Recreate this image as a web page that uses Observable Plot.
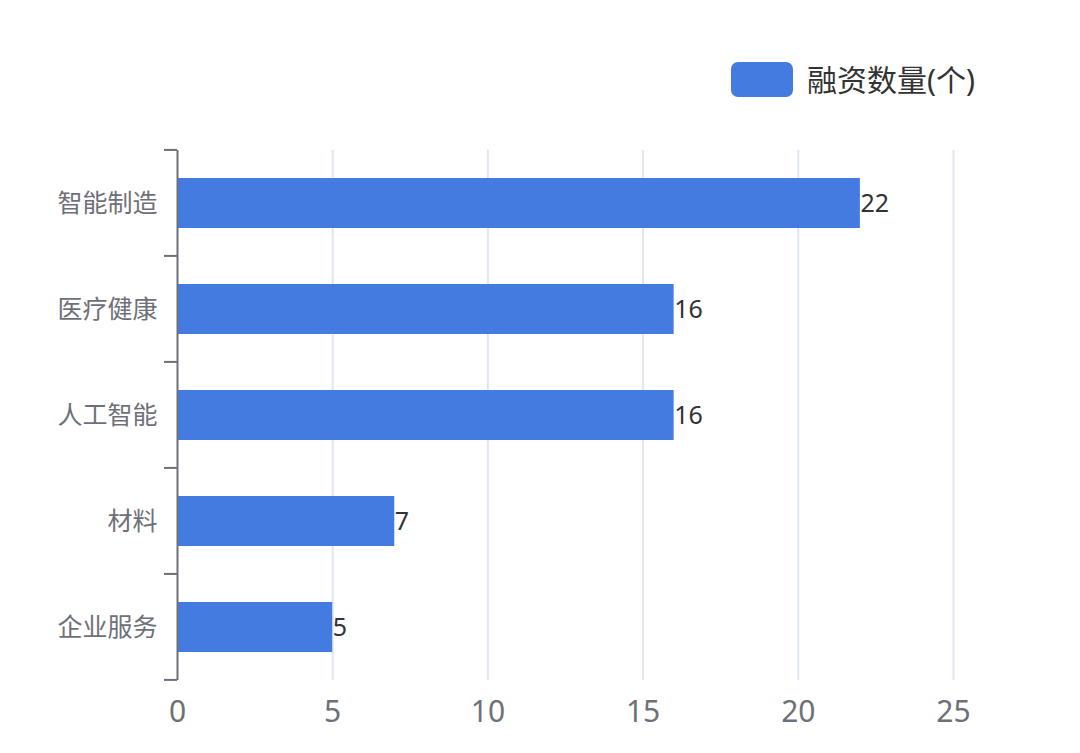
<!DOCTYPE html>
<html><head><meta charset="utf-8">
<script src="https://cdn.jsdelivr.net/npm/d3@7"></script>
<script src="https://cdn.jsdelivr.net/npm/@observablehq/plot@0.6"></script>
<style>
html,body{margin:0;padding:0;background:#fff;}
#wrap{position:relative;width:1080px;height:753px;font-family:"Noto Sans","Noto Sans CJK SC",sans-serif;}
#legend{position:absolute;left:731px;top:62px;display:flex;align-items:center;}
#legend .sw{width:62px;height:35px;border-radius:7px;background:#437be0;}
#legend .lb{margin-left:14px;font-size:30px;color:#333;line-height:35px;}
</style></head>
<body><div id="wrap"><div id="legend"><div class="sw"></div><div class="lb"></div></div></div>
<script>
const categories = ["智能制造", "医疗健康", "人工智能", "材料", "企业服务"];
const values = [22, 16, 16, 7, 5];
const seriesName = "融资数量(个)";
const xTicks = [0, 5, 10, 15, 20, 25];
const PAD = 0.53;

const data = categories.map((c, i) => ({cat: c, v: values[i]}));
document.querySelector("#legend .lb").textContent = seriesName;

function bandEdgeTicks(index, scales, vals, dims) {
  const y = scales.y;
  const step = y(categories[1]) - y(categories[0]);
  const bw = step * (1 - PAD);
  const off = (step - bw) / 2;
  const edges = categories.map(c => y(c) - off).concat([y(categories[categories.length - 1]) + bw + off]);
  const g = d3.create("svg:g");
  g.selectAll("line").data(edges).join("line")
    .attr("x1", dims.marginLeft - 13).attr("x2", dims.marginLeft)
    .attr("y1", d => d).attr("y2", d => d)
    .attr("stroke", "#6e7079").attr("stroke-width", 2);
  return g.node();
}

const chart = Plot.plot({
  width: 1080,
  height: 753,
  marginLeft: 177,
  marginRight: 127,
  marginTop: 150,
  marginBottom: 73,
  style: {fontFamily: '"Noto Sans","Noto Sans CJK SC",sans-serif', background: "transparent"},
  x: {domain: [0, 25], ticks: xTicks},
  y: {domain: categories, paddingInner: PAD, paddingOuter: PAD / 2},
  marks: [
    Plot.gridX(xTicks.filter(t => t > 0), {stroke: "#e0e6f1", strokeOpacity: 1, strokeWidth: 2}),
    Plot.barX(data, {x: "v", y: "cat", fill: "#437be0"}),
    Plot.ruleX([0], {stroke: "#6e7079", strokeWidth: 2}),
    Plot.tickY(categories, {y: d => d, render: bandEdgeTicks}),
    Plot.text(data, {x: "v", y: "cat", text: d => String(d.v), textAnchor: "start", dx: 0, fontSize: 25, fill: "#333"}),
    Plot.axisY({tickSize: 0, tickPadding: 20, fontSize: 25, color: "#6e7079", label: null}),
    Plot.axisX({ticks: xTicks, tickSize: 0, tickPadding: 20, fontSize: 30, color: "#6e7079", label: null})
  ]
});
document.getElementById("wrap").appendChild(chart);
</script></body></html>
